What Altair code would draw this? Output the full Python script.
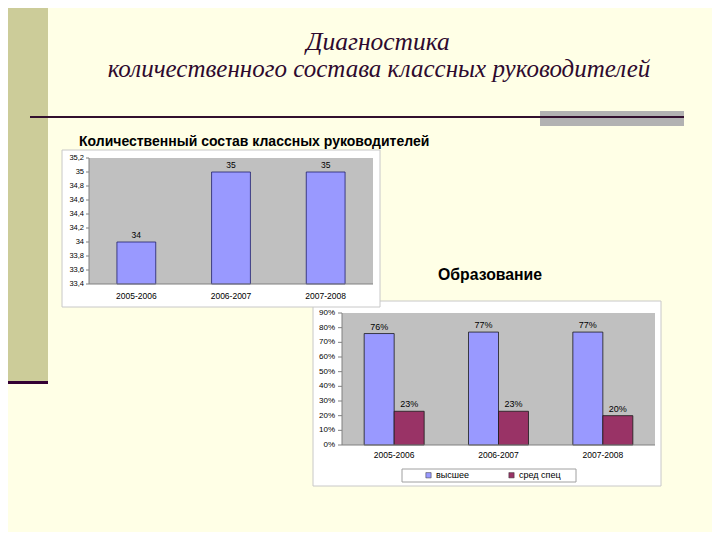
import altair as alt
import pandas as pd

# ---------------- data ----------------
years = ["2005-2006", "2006-2007", "2007-2008"]
count_values = [34, 35, 35]
count_ticks = [33.4, 33.6, 33.8, 34.0, 34.2, 34.4, 34.6, 34.8, 35.0, 35.2]
count_tick_labels = ["33,4", "33,6", "33,8", "34", "34,2", "34,4", "34,6", "34,8", "35", "35,2"]

edu_series = ["высшее", "сред спец"]
edu_higher = [0.76, 0.77, 0.77]
edu_special = [0.23, 0.23, 0.20]
edu_ticks = [0.0, 0.1, 0.2, 0.3, 0.4, 0.5, 0.6, 0.7, 0.8, 0.9]
edu_tick_labels = ["0%", "10%", "20%", "30%", "40%", "50%", "60%", "70%", "80%", "90%"]

title_line1 = "Диагностика"
title_line2 = "количественного состава классных руководителей"
chart1_title = "Количественный состав классных руководителей"
chart2_title = "Образование"

# ---------------- helpers ----------------
O = 8  # page margin


def p(v):
    return v - O


FONT = "Liberation Sans"
one = pd.DataFrame({"k": [0]})


def rect(x1, x2, y1, y2, **kw):
    return alt.Chart(one).mark_rect(**kw).encode(
        x=alt.value(p(x1)), x2=alt.value(p(x2)), y=alt.value(p(y1)), y2=alt.value(p(y2))
    )


def label(text, x, y, **kw):
    return alt.Chart(one).mark_text(text=text, **kw).encode(x=alt.value(p(x)), y=alt.value(p(y)))


layers = []

# ---------------- slide decoration ----------------
layers.append(rect(8, 48, 0, 381, color="#CCCC99"))
layers.append(rect(0, 48, 381, 384, color="#330033"))
layers.append(rect(540, 684, 111, 126, color="#B2B2B2"))
layers.append(rect(30, 684, 116, 118, color="#33102E"))

layers.append(label(title_line1, 378, 42, font="Liberation Serif", fontStyle="italic",
                    fontSize=25.5, color="#2E0A2E", align="center"))
layers.append(label(title_line2, 379, 69, font="Liberation Serif", fontStyle="italic",
                    fontSize=25, color="#2E0A2E", align="center"))
layers.append(label(chart1_title, 79, 142, font=FONT, fontWeight="bold", fontSize=14,
                    color="#000000", align="left"))
layers.append(label(chart2_title, 438, 275, font=FONT, fontWeight="bold", fontSize=15.8,
                    color="#000000", align="left"))

# ---------------- chart 2 (education) ----------------
layers.append(rect(313, 661, 301, 486, color="#FFFFFF", stroke="#C8C8C8", strokeWidth=1))
layers.append(rect(342, 655, 313, 445, color="#C0C0C0"))

c2x = alt.Scale(domain=years, range=[p(342), p(655)], paddingInner=0.425, paddingOuter=0.2125)
c2off = alt.Scale(domain=edu_series, paddingInner=0, paddingOuter=0)
c2off_text = alt.Scale(type="point", domain=edu_series, padding=0.5)
c2y = alt.Scale(domain=[edu_ticks[0], edu_ticks[-1]], range=[p(445), p(313)], nice=False, zero=True)

df2 = pd.DataFrame({
    "year": years * 2,
    "series": [edu_series[0]] * 3 + [edu_series[1]] * 3,
    "value": edu_higher + edu_special,
})
df2t = pd.DataFrame({"v": edu_ticks, "label": edu_tick_labels})
dfy = pd.DataFrame({"year": years})

layers.append(rect(402, 576, 469, 482, color="#FFFFFF", stroke="#A0A0A0", strokeWidth=1))

layers.append(alt.Chart(df2).mark_bar(stroke="#1A1A1A", strokeWidth=0.8).encode(
    x=alt.X("year:N", scale=c2x, axis=None),
    xOffset=alt.XOffset("series:N", scale=c2off),
    y=alt.Y("value:Q", scale=c2y, axis=None),
    color=alt.Color("series:N", scale=alt.Scale(domain=edu_series, range=["#9999FF", "#993366"]),
                    legend=alt.Legend(orient="none", legendX=p(424), legendY=p(470.5), direction="horizontal",
                                      title=None, symbolType="square", symbolSize=28,
                                      symbolStrokeColor="#333333", symbolStrokeWidth=0.5,
                                      labelFont=FONT, labelFontSize=9, labelColor="#000000",
                                      labelOffset=3, columnPadding=38, padding=0)),
))
layers.append(alt.Chart(df2).mark_text(font=FONT, fontSize=9, color="#000000", dy=-4,
                                       baseline="alphabetic").encode(
    x=alt.X("year:N", scale=c2x, axis=None),
    xOffset=alt.XOffset("series:N", scale=c2off_text),
    y=alt.Y("value:Q", scale=c2y, axis=None),
    text=alt.Text("value:Q", format=".0%"),
))
layers.append(alt.Chart(df2t).mark_text(font=FONT, fontSize=8, color="#000000", align="right",
                                        baseline="middle").encode(
    x=alt.value(p(335)), y=alt.Y("v:Q", scale=c2y, axis=None), text="label:N"))
layers.append(alt.Chart(df2t).mark_rule(color="#808080").encode(
    x=alt.value(p(338)), x2=alt.value(p(342)), y=alt.Y("v:Q", scale=c2y, axis=None)))
layers.append(alt.Chart(one).mark_rule(color="#808080").encode(
    x=alt.value(p(342)), y=alt.value(p(313)), y2=alt.value(p(445))))
layers.append(alt.Chart(one).mark_rule(color="#808080").encode(
    x=alt.value(p(342)), x2=alt.value(p(655)), y=alt.value(p(445))))
layers.append(alt.Chart(dfy).mark_text(font=FONT, fontSize=8.5, color="#000000",
                                       baseline="middle").encode(
    x=alt.X("year:N", scale=c2x, axis=None), y=alt.value(p(455)), text="year:N"))

# ---------------- chart 1 (count) ----------------
layers.append(rect(62, 380, 150, 307, color="#FFFFFF", stroke="#C8C8C8", strokeWidth=1))
layers.append(rect(89, 373, 158, 284, color="#C0C0C0"))

c1x = alt.Scale(domain=years, range=[p(89), p(373)], paddingInner=0.59, paddingOuter=0.295)
c1y = alt.Scale(domain=[count_ticks[0], count_ticks[-1]], range=[p(284), p(158)], zero=False, nice=False)

df1 = pd.DataFrame({"year": years, "value": count_values})
df1t = pd.DataFrame({"v": count_ticks, "label": count_tick_labels})

layers.append(alt.Chart(df1).mark_bar(color="#9999FF", stroke="#1F1F6B", strokeWidth=0.8).encode(
    x=alt.X("year:N", scale=c1x, axis=None),
    y=alt.Y("value:Q", scale=c1y, axis=None),
    y2=alt.datum(count_ticks[0]),
))
layers.append(alt.Chart(df1).mark_text(font=FONT, fontSize=8.5, color="#000000", dy=-4,
                                       baseline="alphabetic").encode(
    x=alt.X("year:N", scale=c1x, axis=None),
    y=alt.Y("value:Q", scale=c1y, axis=None),
    text=alt.Text("value:Q", format="d"),
))
layers.append(alt.Chart(df1t).mark_text(font=FONT, fontSize=7.5, color="#000000", align="right",
                                        baseline="middle").encode(
    x=alt.value(p(84)), y=alt.Y("v:Q", scale=c1y, axis=None), text="label:N"))
layers.append(alt.Chart(df1t).mark_rule(color="#808080").encode(
    x=alt.value(p(86)), x2=alt.value(p(89)), y=alt.Y("v:Q", scale=c1y, axis=None)))
layers.append(alt.Chart(one).mark_rule(color="#808080").encode(
    x=alt.value(p(89)), y=alt.value(p(158)), y2=alt.value(p(284))))
layers.append(alt.Chart(one).mark_rule(color="#808080").encode(
    x=alt.value(p(89)), x2=alt.value(p(373)), y=alt.value(p(284))))
layers.append(alt.Chart(dfy).mark_text(font=FONT, fontSize=8.5, color="#000000",
                                       baseline="middle").encode(
    x=alt.X("year:N", scale=c1x, axis=None), y=alt.value(p(296)), text="year:N"))

chart = alt.layer(*layers).properties(
    width=704, height=524, background="#FFFFE6", padding=0,
    autosize=alt.AutoSizeParams(type="none"),
).resolve_scale(
    x="independent", y="independent", color="independent", xOffset="independent"
).configure_view(strokeWidth=0)

chart.save("out.html", embed_options={"renderer": "svg", "actions": False})
